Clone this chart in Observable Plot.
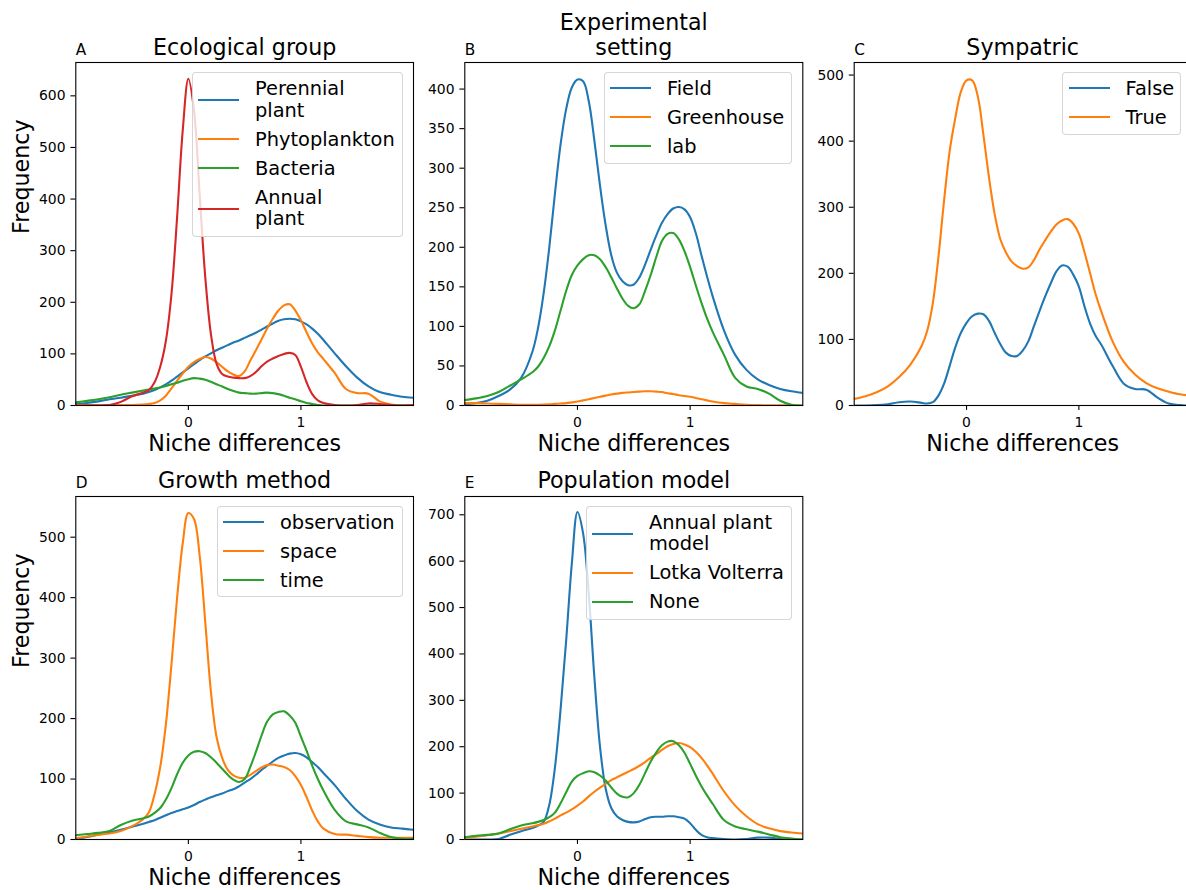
<!DOCTYPE html>
<html><head><meta charset="utf-8">
<script src="https://cdn.jsdelivr.net/npm/d3@7"></script>
<script src="https://cdn.jsdelivr.net/npm/@observablehq/plot@0.6"></script>
<style>
html,body{margin:0;padding:0;background:#fff;overflow:hidden;width:1186px;height:890px;}
body{position:relative;font-family:"DejaVu Sans",sans-serif;}
.panel{position:absolute;}
.legend{position:absolute;background:rgba(255,255,255,0.8);border:1px solid rgba(204,204,204,0.8);border-radius:4px;box-sizing:border-box;}
.lg-line{position:absolute;height:2px;}
.lg-text{position:absolute;white-space:nowrap;line-height:0;font-size:19.4px;color:#000;font-family:"DejaVu Sans",sans-serif;}
</style></head><body>
<script>
// shared x grid (niche differences)
const xGrid = [-1,-0.9,-0.8,-0.7,-0.6,-0.5,-0.4,-0.35,-0.3,-0.25,-0.2,-0.15,-0.1,-0.05,0,0.05,0.1,0.15,0.2,0.25,0.3,0.35,0.4,0.45,0.5,0.55,0.6,0.65,0.7,0.75,0.8,0.85,0.9,0.95,1,1.05,1.1,1.15,1.2,1.3,1.4,1.5,1.6,1.7,1.8,1.9,2];
const xTicks = [0, 1];

// A: Ecological group
const ecoNames = ["Perennial\nplant", "Phytoplankton", "Bacteria", "Annual\nplant"];
const ecoPerennial = [3,5,8,12,15,19,23,26,30,35,41,48,56,64,72,80,88,95,101,107,112,117,122,126,131,136,141,147,153,159,164,167,168,167,163,157,149,139,127,101,76,54,37,26,21,17,15];
const ecoPhyto = [1,1,1,1,1,1,2,3,5,10,19,33,48,62,75,84,90,94,91,84,75,66,60,57,66,87,107,128,149,168,184,194,196,184,165,142,120,103,90,63,32,24,23,8,2,0,0];
const ecoBacteria = [6,9,12,16,21,25,29,31,33,35,38,41,44,48,51,53,52,50,46,41,37,32,28,25,24,23,23,24,25,24,22,19,15,12,8,5,3,1,0,0,0,0,0,0,0,0,0];
const ecoAnnual = [0,0,0,1,7,18,25,30,45,75,125,216,365,533,633,572,410,249,139,81,61,56,54,53,53,57,65,76,85,91,96,100,102,98,75,45,22,10,5,1,0,1,4,3,1,0,1];
const ecoTicks = [0,100,200,300,400,500,600];

// B: Experimental setting
const setNames = ["Field", "Greenhouse", "lab"];
const setField = [2,3,6,12,20,35,68,98,142,200,268,330,375,402,412,410,385,335,278,228,190,168,157,152,153,162,178,197,215,231,242,249,251,248,238,218,190,163,138,95,64,45,33,26,21,18,16];
const setGreenhouse = [3,3,2.5,2,1.5,1,1,1,1.2,1.5,2,2.5,3,4,5,6.5,8,9.5,11,12.5,14,15,16,16.5,17,17.5,18,18,17.5,17,15.5,14.5,13,12,11,9.5,8,6.5,5,3,2,1,0.5,0.3,0.2,0.1,0];
const setLab = [7,9,12,17,25,33,42,49,60,75,95,120,145,165,177,185,190,190,185,175,162,148,135,126,123,128,145,165,188,208,217,218,210,195,175,152,130,110,93,64,35,24,21,15,6,1,0];
const setTicks = [0,50,100,150,200,250,300,350,400];

// C: Sympatric
const symNames = ["False", "True"];
const symFalse = [0,0,0.5,2,5,6,4,3,5,15,33,60,88,110,125,135,139,138,128,110,93,80,75,75,83,97,120,143,165,185,203,212,210,198,180,150,124,105,92,60,33,25,24,12,3,0.5,0];
const symTrue = [10,14,20,29,43,62,90,113,155,225,310,385,435,475,492,492,468,410,345,290,252,232,218,211,207,209,220,236,250,263,274,280,282,275,260,232,200,168,142,97,66,47,34,26,21,17,15];
const symTicks = [0,100,200,300,400,500];

// D: Growth method
const grNames = ["observation", "space", "time"];
const grObservation = [1,4,8,12,16,21,26,29,32,36,40,44,47,50,53,57,62,66,70,73,76,80,83,88,94,100,107,115,122,129,135,139,142,143,141,136,128,120,110,90,67,47,33,25,20,18,16];
const grSpace = [2,5,8,10,14,22,34,45,75,120,190,290,400,490,540,530,470,360,245,170,135,115,106,102,102,107,113,119,123,124,122,120,115,105,90,70,48,30,18,9,8,6,4,3,3,3,3];
const grTime = [7,9,11,14,24,31,35,38,44,52,66,85,108,127,139,145,146,143,136,127,117,107,99,95,100,120,145,172,195,207,211,212,205,193,170,147,122,100,81,49,30,25,20,11,4,1,1];
const grTicks = [0,100,200,300,400,500];

// E: Population model
const popNames = ["Annual plant\nmodel", "Lotka Volterra", "None"];
const popAnnual = [0,0,0,1,10,18,25,30,38,75,155,280,430,595,706,660,530,350,200,110,68,50,42,38,37,39,44,48,49,49,50,50,48,45,35,21,10,5,3,1,0,1,4,4,1,0,0];
const popLV = [4,6,9,13,18,23,28,31,34,39,45,52,58,65,73,82,93,103,112,120,128,134,140,146,152,159,167,176,184,193,201,206,208,205,199,189,176,160,142,104,73,50,33,24,18,15,13];
const popNone = [5,8,10,13,22,30,35,38,42,48,58,78,102,125,137,143,147,145,138,127,112,99,92,91,100,118,143,168,188,203,211,212,203,187,163,138,115,95,77,42,28,22,17,11,5,2,0];
const popTicks = [0,100,200,300,400,500,600,700];

const palette = ["#1f77b4", "#ff7f0e", "#2ca02c", "#d62728"];

const panels = [
  {letter:"A", title:"Ecological group", names:ecoNames, series:[ecoPerennial,ecoPhyto,ecoBacteria,ecoAnnual], yMax:664.6, yTicks:ecoTicks, ylabel:true,
   box:{left:0, top:0, width:420, height:450, mt:62, mb:45, ml:75.3, mr:7}, titleDy:-8,
   legend:{left:191.7, top:72.3, width:211.6, height:164.4}},
  {letter:"B", title:"Experimental\nsetting", names:setNames, series:[setField,setGreenhouse,setLab], yMax:433.6, yTicks:setTicks, ylabel:false,
   box:{left:420, top:0, width:390, height:450, mt:62, mb:45, ml:44.3, mr:7.7}, titleDy:-8,
   legend:{left:603.7, top:72, width:188.6, height:92}},
  {letter:"C", title:"Sympatric", names:symNames, series:[symFalse,symTrue], yMax:519, yTicks:symTicks, ylabel:false,
   box:{left:810, top:0, width:386, height:450, mt:62, mb:45, ml:43.7, mr:5.3}, titleDy:-8,
   legend:{left:1062.3, top:72, width:118.7, height:63}},
  {letter:"D", title:"Growth method", names:grNames, series:[grObservation,grSpace,grTime], yMax:567.3, yTicks:grTicks, ylabel:true,
   box:{left:0, top:450, width:420, height:440, mt:46, mb:51, ml:75.3, mr:7}, titleDy:-8.7,
   legend:{left:216.7, top:506, width:186.6, height:91.3}},
  {letter:"E", title:"Population model", names:popNames, series:[popAnnual,popLV,popNone], yMax:739.4, yTicks:popTicks, ylabel:false,
   box:{left:420, top:450, width:390, height:440, mt:46, mb:51, ml:44.3, mr:7.7}, titleDy:-8.7,
   legend:{left:585.7, top:506, width:206.6, height:114}}
];

for (const p of panels) {
  const rows = [];
  p.names.forEach((name, i) => {
    xGrid.forEach((x, j) => rows.push({series: name, x, y: p.series[i][j]}));
  });
  const b = p.box;
  const marks = [
    Plot.line(rows, {x: "x", y: "y", stroke: "series", z: "series", curve: "catmull-rom", strokeWidth: 2.1, clip: true}),
    Plot.frame({stroke: "#000", strokeWidth: 1.1}),
    Plot.axisX({ticks: xTicks, tickSize: 4.9, tickPadding: 6.8, label: null, tickFormat: d => String(d), strokeWidth: 1.1}),
    Plot.axisY({ticks: p.yTicks, tickSize: 4.9, tickPadding: 5.4, label: null, tickFormat: d => String(d), strokeWidth: 1.1}),
    Plot.text([p.title], {frameAnchor: "top", dy: p.titleDy, lineAnchor: "bottom", fontSize: 22.2, lineHeight: 1.1, text: d => d}),
    Plot.text([p.letter], {frameAnchor: "top-left", textAnchor: "start", dy: p.titleDy, lineAnchor: "bottom", fontSize: 15.3, text: d => d}),
    Plot.text(["Niche differences"], {frameAnchor: "bottom", dy: 45.5, lineAnchor: "bottom", fontSize: 22.2, text: d => d})
  ];
  if (p.ylabel) marks.push(Plot.text(["Frequency"], {frameAnchor: "left", dx: -47.3, rotate: -90, lineAnchor: "bottom", fontSize: 22.2, text: d => d}));
  const svg = Plot.plot({
    width: b.width, height: b.height,
    marginTop: b.mt, marginBottom: b.mb, marginLeft: b.ml, marginRight: b.mr,
    style: {fontFamily: "DejaVu Sans", fontSize: "13.9px", background: "transparent", overflow: "visible", color: "#000"},
    x: {domain: [-1, 2]},
    y: {domain: [0, p.yMax]},
    color: {domain: p.names, range: palette},
    marks
  });
  const holder = document.createElement("div");
  holder.className = "panel";
  holder.style.left = b.left + "px";
  holder.style.top = b.top + "px";
  holder.style.width = b.width + "px";
  holder.style.height = b.height + "px";
  holder.appendChild(svg);
  document.body.appendChild(holder);
}

// legends (HTML overlay)
for (const p of panels) {
  const L = p.legend;
  const box = document.createElement("div");
  box.className = "legend";
  box.style.left = L.left + "px"; box.style.top = L.top + "px";
  box.style.width = L.width + "px"; box.style.height = L.height + "px";
  let y = 15.8;
  p.names.forEach((lab, i) => {
    const lines = lab.split("\n");
    const centers = lines.map((_, j) => y + j * 21.7);
    const hy = d3.mean(centers) + (lines.length > 1 ? 1.5 : 0);
    const ln = document.createElement("div");
    ln.className = "lg-line";
    ln.style.left = (6.6 - 1) + "px"; ln.style.top = (hy - 1 - 1) + "px";
    ln.style.width = "41px"; ln.style.background = palette[i];
    box.appendChild(ln);
    lines.forEach((t, j) => {
      const tx = document.createElement("div");
      tx.className = "lg-text";
      tx.style.left = (63.3 - 1) + "px";
      tx.style.top = (centers[j] + 0.8 - 1) + "px";
      tx.textContent = t;
      box.appendChild(tx);
    });
    y = centers[centers.length - 1] + 29;
  });
  document.body.appendChild(box);
}
</script>
</body></html>
